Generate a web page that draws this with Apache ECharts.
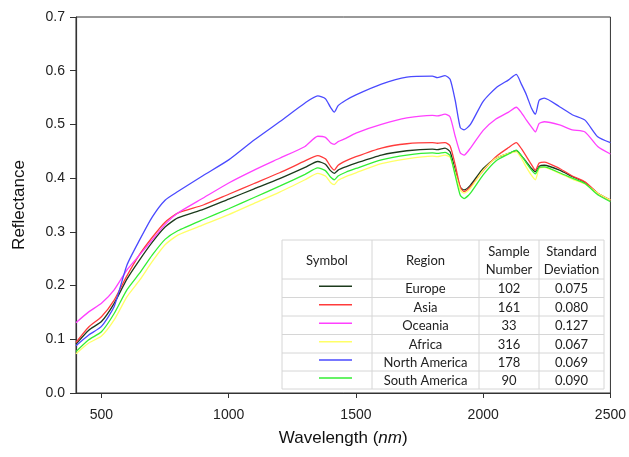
<!DOCTYPE html>
<html>
<head>
<meta charset="utf-8">
<script src="https://cdn.jsdelivr.net/npm/echarts@6/dist/echarts.min.js"></script>
<style>
	html, body { margin: 0; padding: 0; background: #fff; }
	#main { width: 629px; height: 457px; }
</style>
</head>
<body>
<div id="main"></div>
<script>
// wavelength (nm) and mean reflectance per region
var wavelength = [400, 450, 500, 550, 600, 650, 700, 750, 800, 900, 1000, 1100, 1200, 1300, 1350, 1380, 1400, 1415, 1430, 1460, 1500, 1600, 1700, 1800, 1820, 1850, 1870, 1890, 1910, 1925, 1950, 2000, 2050, 2100, 2130, 2150, 2170, 2190, 2205, 2220, 2240, 2300, 2350, 2400, 2450, 2500];

var europe = [0.091, 0.117, 0.133, 0.167, 0.212, 0.248, 0.281, 0.309, 0.326, 0.342, 0.361, 0.380, 0.399, 0.420, 0.431, 0.426, 0.414, 0.409, 0.415, 0.421, 0.428, 0.443, 0.451, 0.454, 0.453, 0.456, 0.449, 0.415, 0.383, 0.378, 0.387, 0.418, 0.437, 0.446, 0.451, 0.442, 0.430, 0.418, 0.412, 0.422, 0.424, 0.415, 0.403, 0.392, 0.372, 0.359];
var asia = [0.094, 0.123, 0.142, 0.173, 0.218, 0.258, 0.290, 0.318, 0.335, 0.350, 0.370, 0.390, 0.410, 0.432, 0.442, 0.436, 0.422, 0.415, 0.424, 0.432, 0.440, 0.456, 0.464, 0.466, 0.465, 0.466, 0.460, 0.425, 0.383, 0.375, 0.384, 0.414, 0.440, 0.457, 0.466, 0.455, 0.440, 0.425, 0.415, 0.428, 0.430, 0.418, 0.404, 0.393, 0.372, 0.359];
var oceania = [0.131, 0.151, 0.167, 0.192, 0.229, 0.257, 0.285, 0.314, 0.335, 0.363, 0.391, 0.415, 0.437, 0.459, 0.478, 0.476, 0.466, 0.463, 0.468, 0.474, 0.484, 0.500, 0.512, 0.517, 0.516, 0.519, 0.514, 0.478, 0.447, 0.443, 0.456, 0.489, 0.510, 0.523, 0.532, 0.522, 0.508, 0.495, 0.486, 0.502, 0.505, 0.499, 0.490, 0.486, 0.459, 0.445];
var africa = [0.073, 0.093, 0.106, 0.136, 0.179, 0.210, 0.245, 0.276, 0.294, 0.313, 0.332, 0.353, 0.374, 0.397, 0.409, 0.404, 0.392, 0.388, 0.396, 0.403, 0.410, 0.427, 0.436, 0.441, 0.440, 0.443, 0.439, 0.410, 0.378, 0.372, 0.381, 0.415, 0.437, 0.446, 0.449, 0.437, 0.420, 0.405, 0.397, 0.418, 0.420, 0.409, 0.398, 0.389, 0.372, 0.359];
var northAmerica = [0.088, 0.108, 0.124, 0.161, 0.238, 0.285, 0.328, 0.359, 0.375, 0.405, 0.434, 0.471, 0.505, 0.540, 0.553, 0.548, 0.532, 0.523, 0.535, 0.545, 0.555, 0.575, 0.588, 0.590, 0.587, 0.591, 0.584, 0.545, 0.494, 0.490, 0.500, 0.543, 0.568, 0.583, 0.593, 0.575, 0.555, 0.530, 0.519, 0.545, 0.549, 0.533, 0.518, 0.508, 0.477, 0.466];
var southAmerica = [0.077, 0.099, 0.114, 0.148, 0.192, 0.223, 0.257, 0.286, 0.302, 0.323, 0.343, 0.364, 0.385, 0.407, 0.419, 0.414, 0.402, 0.397, 0.404, 0.411, 0.418, 0.434, 0.443, 0.447, 0.446, 0.448, 0.442, 0.405, 0.368, 0.362, 0.372, 0.406, 0.432, 0.445, 0.452, 0.442, 0.428, 0.415, 0.408, 0.420, 0.421, 0.410, 0.400, 0.390, 0.369, 0.356];

var xTicks = [500, 1000, 1500, 2000, 2500];

// table contents
var regions = ['Europe', 'Asia', 'Oceania', 'Africa', 'North America', 'South America'];
var sampleNumbers = ['102', '161', '33', '316', '178', '90'];
var stdDeviations = ['0.075', '0.080', '0.127', '0.067', '0.069', '0.090'];
var colors = ['#1c3a1c', '#ff3b3b', '#ff40ff', '#ffff66', '#4a4aff', '#33ee33'];

var seriesValues = [europe, asia, oceania, africa, northAmerica, southAmerica];

var chart = echarts.init(document.getElementById('main'));

function pairs(arr) {
	return wavelength.map(function (w, i) { return [w, arr[i]]; });
}

var series = regions.map(function (name, k) {
	return {
		name: name,
		type: 'line',
		data: pairs(seriesValues[k]),
		symbol: 'none',
		smooth: 0.2,
		lineStyle: { color: colors[k], width: 1.3 },
		itemStyle: { color: colors[k] },
		z: 2
	};
});

// legend table drawn as graphic elements
var colX = [282, 372, 479, 539, 604];
var rowY = [240, 279, 297.5, 316, 334.5, 353, 371, 389];
var grey = '#d6d6d6';
var txtStyle = { fontFamily: 'Lato', fontSize: 13, fill: '#222', align: 'center', verticalAlign: 'middle' };

var table = [];
table.push({ type: 'rect', shape: { x: colX[0], y: rowY[0], width: colX[4] - colX[0], height: rowY[7] - rowY[0] }, style: { fill: '#fff', stroke: grey, lineWidth: 1 } });
for (var r = 1; r < rowY.length - 1; r++) {
	table.push({ type: 'line', shape: { x1: colX[0], y1: rowY[r], x2: colX[4], y2: rowY[r] }, style: { stroke: grey, lineWidth: 1 } });
}
for (var c = 1; c < colX.length - 1; c++) {
	table.push({ type: 'line', shape: { x1: colX[c], y1: rowY[0], x2: colX[c], y2: rowY[7] }, style: { stroke: grey, lineWidth: 1 } });
}
var headers = ['Symbol', 'Region', 'Sample\nNumber', 'Standard\nDeviation'];
headers.forEach(function (h, i) {
	table.push({ type: 'text', x: (colX[i] + colX[i + 1]) / 2, y: (rowY[0] + rowY[1]) / 2 + 1,
		style: Object.assign({}, txtStyle, { text: h, lineHeight: 18 }) });
});
regions.forEach(function (name, k) {
	var cy = (rowY[k + 1] + rowY[k + 2]) / 2;
	table.push({ type: 'line', shape: { x1: 319, y1: cy - 2, x2: 352, y2: cy - 2 }, style: { stroke: colors[k], lineWidth: 1.5 } });
	table.push({ type: 'text', x: (colX[1] + colX[2]) / 2, y: cy + 1, style: Object.assign({}, txtStyle, { text: name }) });
	table.push({ type: 'text', x: (colX[2] + colX[3]) / 2, y: cy + 1, style: Object.assign({}, txtStyle, { text: sampleNumbers[k] }) });
	table.push({ type: 'text', x: (colX[3] + colX[4]) / 2, y: cy + 1, style: Object.assign({}, txtStyle, { text: stdDeviations[k] }) });
});

var option = {
	animation: false,
	backgroundColor: '#fff',
	grid: {
		left: 76,
		right: 17,
		top: 17,
		bottom: 64,
		show: true,
		borderColor: '#333',
		borderWidth: 1
	},
	xAxis: {
		type: 'value',
		min: 400,
		max: 2500,
		name: '{a|Wavelength (}{b|nm}{a|)}',
		nameLocation: 'middle',
		nameGap: 37,
		nameTextStyle: {
			rich: {
				a: { fontFamily: 'Liberation Sans', fontSize: 17, color: '#111' },
				b: { fontFamily: 'Liberation Sans', fontSize: 17, color: '#111', fontStyle: 'italic' }
			}
		},
		axisLine: { lineStyle: { color: '#333', width: 1.2 } },
		axisTick: { show: true, length: 5, customValues: xTicks, lineStyle: { color: '#333' } },
		axisLabel: {
			customValues: xTicks,
			margin: 15,
			fontFamily: 'Liberation Sans',
			fontSize: 14,
			color: '#222',
			formatter: function (v) { return String(v); }
		},
		splitLine: { show: false }
	},
	yAxis: {
		type: 'value',
		min: 0,
		max: 0.7,
		interval: 0.1,
		name: 'Reflectance',
		nameLocation: 'middle',
		nameGap: 48,
		nameTextStyle: { fontFamily: 'Liberation Sans', fontSize: 17, color: '#111' },
		axisLine: { show: true, lineStyle: { color: '#333', width: 1.2 } },
		axisTick: { show: true, length: 6, lineStyle: { color: '#333' } },
		axisLabel: {
			margin: 11,
			fontFamily: 'Liberation Sans',
			fontSize: 14,
			color: '#222',
			formatter: function (v) { return v.toFixed(1); }
		},
		splitLine: { show: false }
	},
	graphic: [{ type: 'group', z: 100, children: table }],
	series: series
};

chart.setOption(option);
</script>
</body>
</html>
